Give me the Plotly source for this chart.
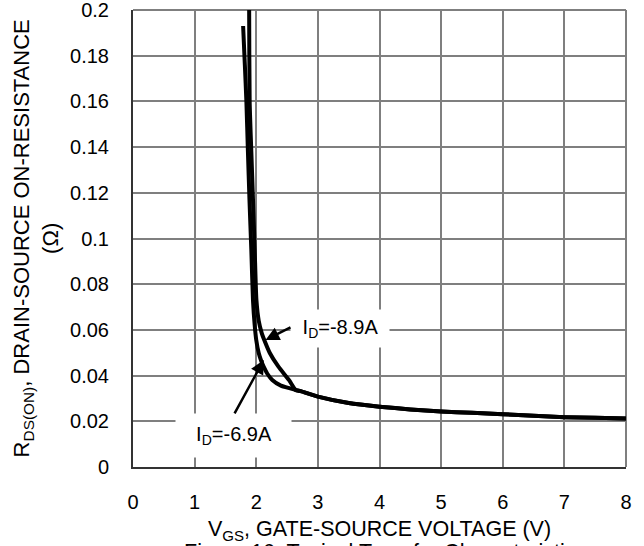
import plotly.graph_objects as go

# Gate-source voltage (V) and on-resistance (ohm) for the two drain currents
vgs_69 = [1.787, 1.815, 1.84, 1.865, 1.89, 1.92, 1.947, 1.975, 2.0, 2.04, 2.08, 2.12,
          2.18, 2.26, 2.40, 2.55, 2.64, 2.72, 3.0, 3.5, 4.0, 4.5, 5.0, 5.5, 6.0, 6.5, 7.0, 7.5, 8.0]
rds_69 = [0.193, 0.176, 0.160, 0.138, 0.117, 0.095, 0.073, 0.062, 0.0556, 0.0499, 0.0465, 0.0439,
          0.0408, 0.0381, 0.0356, 0.0344, 0.0337, 0.0332, 0.0308, 0.0280, 0.0264, 0.0252, 0.0243,
          0.0237, 0.0231, 0.0224, 0.0218, 0.0215, 0.0212]

vgs_89 = [1.884, 1.885, 1.893, 1.92, 1.947, 1.975, 2.003, 2.04, 2.09, 2.13, 2.22, 2.36,
          2.53, 2.64, 2.72, 3.0, 3.5, 4.0, 4.5, 5.0, 5.5, 6.0, 6.5, 7.0, 7.5, 8.0]
rds_89 = [0.21, 0.200, 0.160, 0.138, 0.117, 0.095, 0.073, 0.064, 0.0585, 0.0556, 0.0499, 0.0439,
          0.0381, 0.0337, 0.0332, 0.0308, 0.0280, 0.0264, 0.0252, 0.0243, 0.0237, 0.0231, 0.0224,
          0.0218, 0.0215, 0.0212]

x_ticks = [0, 1, 2, 3, 4, 5, 6, 7, 8]
y_ticks = [0, 0.02, 0.04, 0.06, 0.08, 0.1, 0.12, 0.14, 0.16, 0.18, 0.2]
y_tick_text = ["0", "0.02", "0.04", "0.06", "0.08", "0.1", "0.12", "0.14", "0.16", "0.18", "0.2"]

FONT = "Liberation Sans, Arial, sans-serif"
GRID = "#7f7f7f"

fig = go.Figure()
for xs, ys in [(vgs_69, rds_69), (vgs_89, rds_89)]:
    fig.add_trace(go.Scatter(
        x=xs, y=ys, mode="lines",
        line=dict(color="black", width=4, shape="spline", smoothing=0.6),
        showlegend=False, hoverinfo="skip",
    ))

fig.update_layout(
    width=644, height=546,
    margin=dict(l=133, r=18, t=10, b=79),
    paper_bgcolor="white", plot_bgcolor="white",
    font=dict(family=FONT, size=20, color="black"),
    xaxis=dict(
        range=[0, 8], tickvals=x_ticks, ticks="", ticklabelstandoff=16,
        ticklabeloverflow="allow", automargin=False,
        showgrid=True, gridcolor=GRID, gridwidth=1.5,
        showline=True, linecolor="#333333", linewidth=2,
        zeroline=False, fixedrange=True,
    ),
    yaxis=dict(
        range=[0, 0.2], tickvals=y_ticks, ticktext=y_tick_text, ticks="",
        ticklabelstandoff=18, ticklabeloverflow="allow", automargin=False,
        showgrid=True, gridcolor=GRID, gridwidth=1.5,
        showline=True, linecolor="#333333", linewidth=2,
        zeroline=False, fixedrange=True,
    ),
    # top and right frame edges of the plot area
    shapes=[
        dict(type="line", xref="paper", yref="paper", x0=0, x1=1, y0=1, y1=1,
             line=dict(color=GRID, width=2), layer="below"),
        dict(type="line", xref="paper", yref="paper", x0=1, x1=1, y0=0, y1=1,
             line=dict(color=GRID, width=2), layer="below"),
    ],
)

annotations = [
    # axis titles and caption
    dict(text="V<sub>GS</sub>, GATE-SOURCE VOLTAGE (V)", xref="paper", yref="paper",
         x=0.5, y=-0.138, xanchor="center", yanchor="middle", showarrow=False,
         font=dict(size=21.5)),
    dict(text="Figure 16. Typical Transfer Characteristic", xref="paper", yref="paper",
         x=0.5, y=-0.155, xanchor="center", yanchor="top", showarrow=False,
         font=dict(size=21.5)),
    dict(text="R<sub>DS(ON)</sub>, DRAIN-SOURCE ON-RESISTANCE<br>(\u03a9)", xref="paper", yref="paper",
         x=-0.197, y=0.5, xanchor="center", yanchor="middle", textangle=-90, showarrow=False,
         font=dict(size=22)),
    # curve labels on white boxes
    dict(text="\u00a0I<sub>D</sub>=-8.9A\u00a0", x=3.36, y=0.0608, xanchor="center", yanchor="middle",
         showarrow=False, bgcolor="white", borderpad=6),
    dict(text="\u00a0\u00a0I<sub>D</sub>=-6.9A\u00a0\u00a0", x=1.63, y=0.0140, xanchor="center",
         yanchor="middle", showarrow=False, bgcolor="white", borderpad=9),
    # pointer arrows
    dict(text="", x=2.15, y=0.0556, ax=2.58, ay=0.0614, axref="x", ayref="y",
         showarrow=True, arrowhead=2, arrowsize=1.1, arrowwidth=2.5, arrowcolor="black", standoff=0),
    dict(text="", x=2.122, y=0.0468, ax=1.635, ay=0.0228, axref="x", ayref="y",
         showarrow=True, arrowhead=2, arrowsize=1.1, arrowwidth=2.5, arrowcolor="black", standoff=0),
]
fig.update_layout(annotations=annotations)

fig.write_html("out.html")
